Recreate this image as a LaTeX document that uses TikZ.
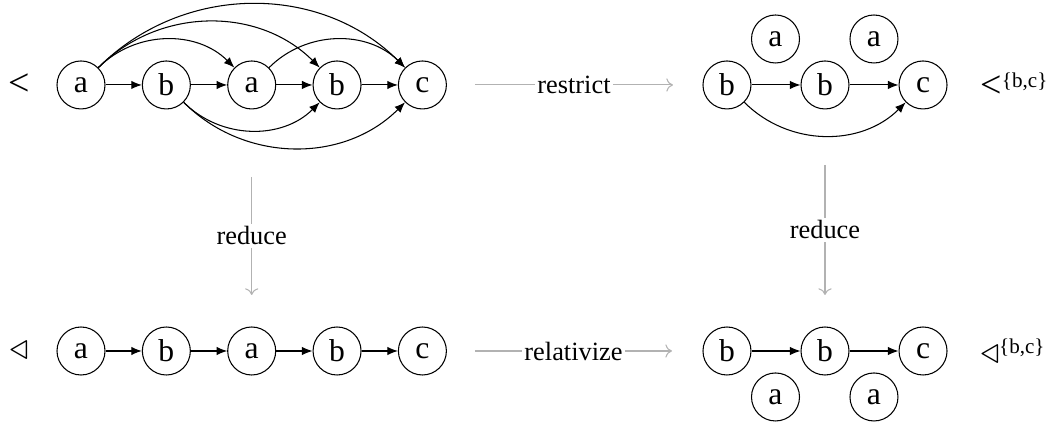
\documentclass[tikz,border=0pt]{standalone}
\usepackage{fontspec}
\setmainfont{Liberation Serif}
\usetikzlibrary{arrows.meta}
\tikzset{
  letter/.style={draw,circle,minimum size=0.64cm,inner sep=0pt,font=\large},
  oparrow/.style={draw=gray!60,-{To[length=2.5pt,width=5pt]}},
  oplabel/.style={fill=white,inner sep=1pt},
  order/.style={font=\Large}
}
\newcommand{\setsup}{\textsuperscript{\fontsize{8}{9}\selectfont\{b,c\}}}
\begin{document}
\begin{tikzpicture}[>={Latex[length=4pt,width=3.2pt]}]
\useasboundingbox (0,0) rectangle (14,-5.707);
% top left: the order <
\node[order] (lt) at (0.253,-1.133){<};
\node[letter] (ta1) at (1.08,-1.133){a};
\node[letter] (tb2) at (2.218,-1.133){b};
\node[letter] (ta3) at (3.356,-1.133){a};
\node[letter] (tb4) at (4.494,-1.133){b};
\node[letter] (tc5) at (5.632,-1.133){c};
\draw[->] (ta1)--(tb2);
\draw[->] (tb2)--(ta3);
\draw[->] (ta3)--(tb4);
\draw[->] (tb4)--(tc5);
\draw[->] (ta1) to[out=45,in=135] (ta3);
\draw[->] (ta1) to[out=45,in=135] (tb4);
\draw[->] (ta1) to[out=45,in=135] (tc5);
\draw[->] (ta3) to[out=45,in=135] (tc5);
\draw[->] (tb2) to[out=-45,in=-135] (tb4);
\draw[->] (tb2) to[out=-45,in=-135] (tc5);

% bottom left: the reduction
\node[order] (tri) at (0.253,-4.68){$\triangleleft$};
\node[letter] (ba1) at (1.08,-4.68){a};
\node[letter] (bb2) at (2.218,-4.68){b};
\node[letter] (ba3) at (3.356,-4.68){a};
\node[letter] (bb4) at (4.494,-4.68){b};
\node[letter] (bc5) at (5.632,-4.68){c};
\draw[->] (ba1)--(bb2);
\draw[->] (bb2)--(ba3);
\draw[->] (ba3)--(bb4);
\draw[->] (bb4)--(bc5);

% top right: restricted to {b,c}
\node[letter] (rta1) at (10.34,-0.52){a};
\node[letter] (rta2) at (11.653,-0.52){a};
\node[letter] (rtb1) at (9.693,-1.133){b};
\node[letter] (rtb2) at (11.0,-1.133){b};
\node[letter] (rtc) at (12.307,-1.133){c};
\node[anchor=west] (ltbc) at (12.95,-1.133){{\Large<}\setsup};
\draw[->] (rtb1)--(rtb2);
\draw[->] (rtb2)--(rtc);
\draw[->] (rtb1) to[out=-45,in=-135] (rtc);

% bottom right: relativized
\node[letter] (rbb1) at (9.693,-4.68){b};
\node[letter] (rbb2) at (11.0,-4.68){b};
\node[letter] (rbc) at (12.307,-4.68){c};
\node[letter] (rba1) at (10.34,-5.293){a};
\node[letter] (rba2) at (11.653,-5.293){a};
\node[anchor=west] (tribc) at (12.95,-4.68){{\Large$\triangleleft$}\setsup};
\draw[->] (rbb1)--(rbb2);
\draw[->] (rbb2)--(rbc);

% the operations
\coordinate (rs1) at (6.333,-1.133);
\coordinate (rs2) at (8.973,-1.133);
\coordinate (rl1) at (6.333,-4.68);
\coordinate (rl2) at (8.96,-4.68);
\coordinate (rdL1) at (3.356,-2.36);
\coordinate (rdL2) at (3.356,-3.933);
\coordinate (rdR1) at (11.0,-2.2);
\coordinate (rdR2) at (11.0,-3.933);
\draw[oparrow] (rs1)--node[oplabel]{restrict}(rs2);
\draw[oparrow] (rl1)--node[oplabel]{relativize}(rl2);
\draw[oparrow] (rdL1)--node[oplabel]{reduce}(rdL2);
\draw[oparrow] (rdR1)--node[oplabel]{reduce}(rdR2);
\end{tikzpicture}
\end{document}
